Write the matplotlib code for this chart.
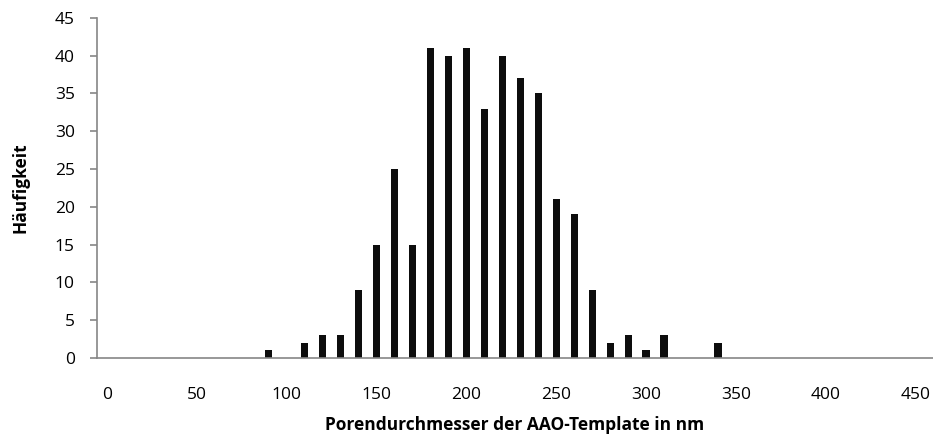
import numpy as np
import matplotlib.pyplot as plt

# pore diameter histogram (counts per 10 nm class)
diameters = [90, 110, 120, 130, 140, 150, 160, 170, 180, 190, 200, 210,
             220, 230, 240, 250, 260, 270, 280, 290, 300, 310, 340]
counts = [1, 2, 3, 3, 9, 15, 25, 15, 41, 40, 41, 33,
          40, 37, 35, 21, 19, 9, 2, 3, 1, 3, 2]
xticks = list(range(0, 451, 50))
yticks = list(range(0, 46, 5))

plt.rcParams['font.family'] = ['Open Sans', 'DejaVu Sans']

fig = plt.figure(figsize=(9.33, 4.37), dpi=100)
ax = fig.add_axes([0.104, 0.181, 0.896, 0.778])

ax.bar(diameters, counts, width=4.2, color='#0d0d0d')

ax.set_xlim(-5.5, 459.5)
ax.set_ylim(0, 45)
ax.set_xticks(xticks)
ax.set_yticks(yticks)

for s in ['top', 'right']:
    ax.spines[s].set_visible(False)
for s in ['left', 'bottom']:
    ax.spines[s].set_color('#868686')
    ax.spines[s].set_linewidth(1.2)

ax.tick_params(axis='x', length=0, pad=21, labelsize=12.5)
ax.tick_params(axis='y', length=5, width=1.2, color='#868686', pad=11, labelsize=12.5)

ax.set_xlabel('Porendurchmesser der AAO-Template in nm', fontsize=12.5,
              fontweight='bold', labelpad=9)
ax.set_ylabel('Häufigkeit', fontsize=12.5, fontweight='bold', labelpad=18)

fig.savefig('out.png', dpi=100)
